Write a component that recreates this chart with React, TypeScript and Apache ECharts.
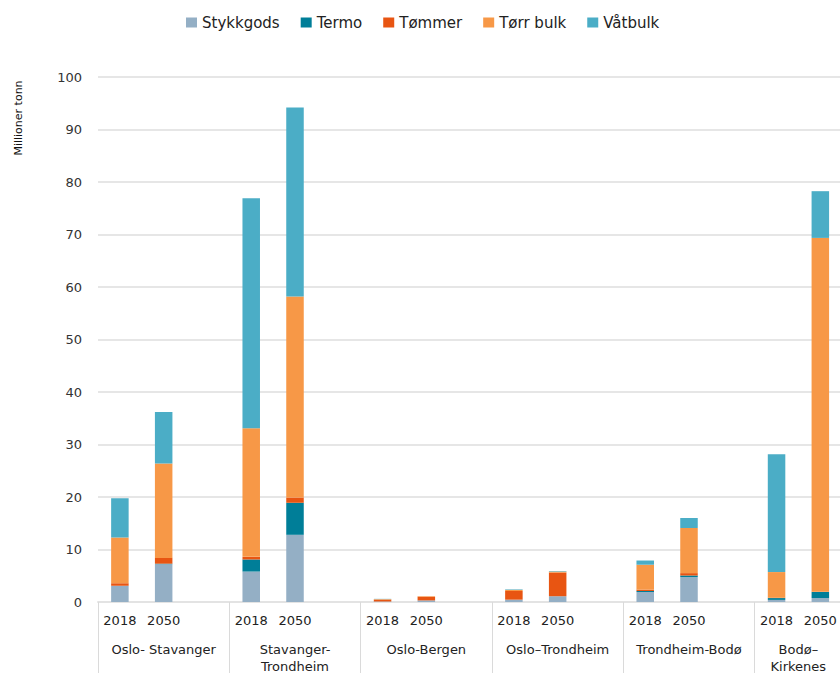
import React, { useEffect, useRef } from "react";
import * as echarts from "echarts";

const categories = [
  "Oslo- Stavanger",
  "Stavanger-\nTrondheim",
  "Oslo-Bergen",
  "Oslo–Trondheim",
  "Trondheim-Bodø",
  "Bodø–\nKirkenes",
];
const years = ["2018", "2050"];
const seriesNames = ["Stykkgods", "Termo", "Tømmer", "Tørr bulk", "Våtbulk"];
const colors = ["#94afc5", "#007e98", "#e85512", "#f79847", "#4badc6"];

const stykkgods2018 = [3.1, 5.8, 0.1, 0.45, 1.9, 0.4];
const stykkgods2050 = [7.2, 12.8, 0.3, 1.1, 4.75, 0.75];
const termo2018 = [0, 2.3, 0, 0, 0.2, 0.35];
const termo2050 = [0.1, 6.1, 0, 0, 0.3, 1.15];
const tommer2018 = [0.45, 0.5, 0.35, 1.65, 0.25, 0.05];
const tommer2050 = [1.1, 1.0, 0.7, 4.5, 0.45, 0.05];
const torr2018 = [8.75, 24.5, 0.1, 0.2, 4.75, 4.9];
const torr2050 = [18.0, 38.3, 0.1, 0.2, 8.6, 67.4];
const vat2018 = [7.45, 43.8, 0.05, 0.1, 0.8, 22.45];
const vat2050 = [9.8, 36.0, 0, 0.1, 1.9, 8.9];

const yTicks = { min: 0, max: 100, interval: 10 };

const seriesData2018 = [stykkgods2018, termo2018, tommer2018, torr2018, vat2018];
const seriesData2050 = [stykkgods2050, termo2050, tommer2050, torr2050, vat2050];

function slots(a: number[], b: number[]) {
  const out: (number | null)[] = [];
  for (let i = 0; i < categories.length; i++) {
    out.push(a[i], b[i], null);
  }
  return out;
}

const yearAxis: string[] = [];
categories.forEach(() => {
  yearAxis.push(years[0], years[1], "");
});

const FONT = "DejaVu Sans";

export default function App() {
  const ref = useRef<HTMLDivElement>(null);
  useEffect(() => {
    if (!ref.current) return;
    const chart = echarts.init(ref.current, null, { renderer: "svg" });
    chart.setOption({
      animation: false,
      backgroundColor: "#ffffff",
      textStyle: { fontFamily: FONT },
      legend: {
        left: 181,
        top: 10,
        icon: "rect",
        itemWidth: 11,
        itemHeight: 10,
        itemGap: 21,
        textStyle: { fontSize: 15, color: "#222", fontFamily: FONT },
        data: seriesNames,
      },
      grid: {
        left: 98,
        top: 77,
        width: 788,
        height: 525,
        containLabel: false,
        outerBoundsMode: "none",
      },
      graphic: [
        {
          type: "text",
          x: 18,
          y: 118,
          rotation: Math.PI / 2,
          style: {
            text: "Millioner tonn",
            fontSize: 11,
            fontFamily: FONT,
            fill: "#111",
            align: "center",
            verticalAlign: "middle",
          },
        },
      ],
      xAxis: [
        {
          type: "category",
          data: yearAxis,
          position: "bottom",
          axisLine: { show: true, lineStyle: { color: "#e3e3e3", width: 2 } },
          axisTick: { show: false },
          axisLabel: {
            interval: 0,
            margin: 12,
            fontSize: 13,
            color: "#222",
            fontFamily: FONT,
          },
        },
        {
          type: "category",
          data: categories,
          position: "bottom",
          axisLine: { show: false },
          axisTick: { show: true, length: 71, lineStyle: { color: "#dadada", width: 1 } },
          axisLabel: {
            interval: 0,
            margin: 39,
            fontSize: 13,
            lineHeight: 17,
            color: "#222",
            fontFamily: FONT,
            formatter: (v: string) =>
              v.startsWith("Bodø") ? v.split("\n").map((s) => `{s|${s}}`).join("\n") : v,
            rich: {
              s: { padding: [0, 44, 0, 0], fontSize: 13, lineHeight: 17, color: "#222", fontFamily: FONT },
            },
          },
        },
      ],
      yAxis: {
        type: "value",
        min: yTicks.min,
        max: yTicks.max,
        interval: yTicks.interval,
        axisLine: { show: false },
        axisTick: { show: false },
        axisLabel: { fontSize: 13, color: "#333", margin: 16, fontFamily: FONT },
        splitLine: { lineStyle: { color: "#e6e6e6", width: 2 } },
      },
      series: seriesNames.map((name, k) => ({
        name,
        type: "bar",
        stack: "total",
        xAxisIndex: 0,
        barWidth: "40%",
        itemStyle: { color: colors[k] },
        data: slots(seriesData2018[k], seriesData2050[k]),
      })),
    });
    return () => chart.dispose();
  }, []);
  return (
    <div
      ref={ref}
      style={{ position: "absolute", left: 0, top: 0, width: 840, height: 673 }}
    />
  );
}
